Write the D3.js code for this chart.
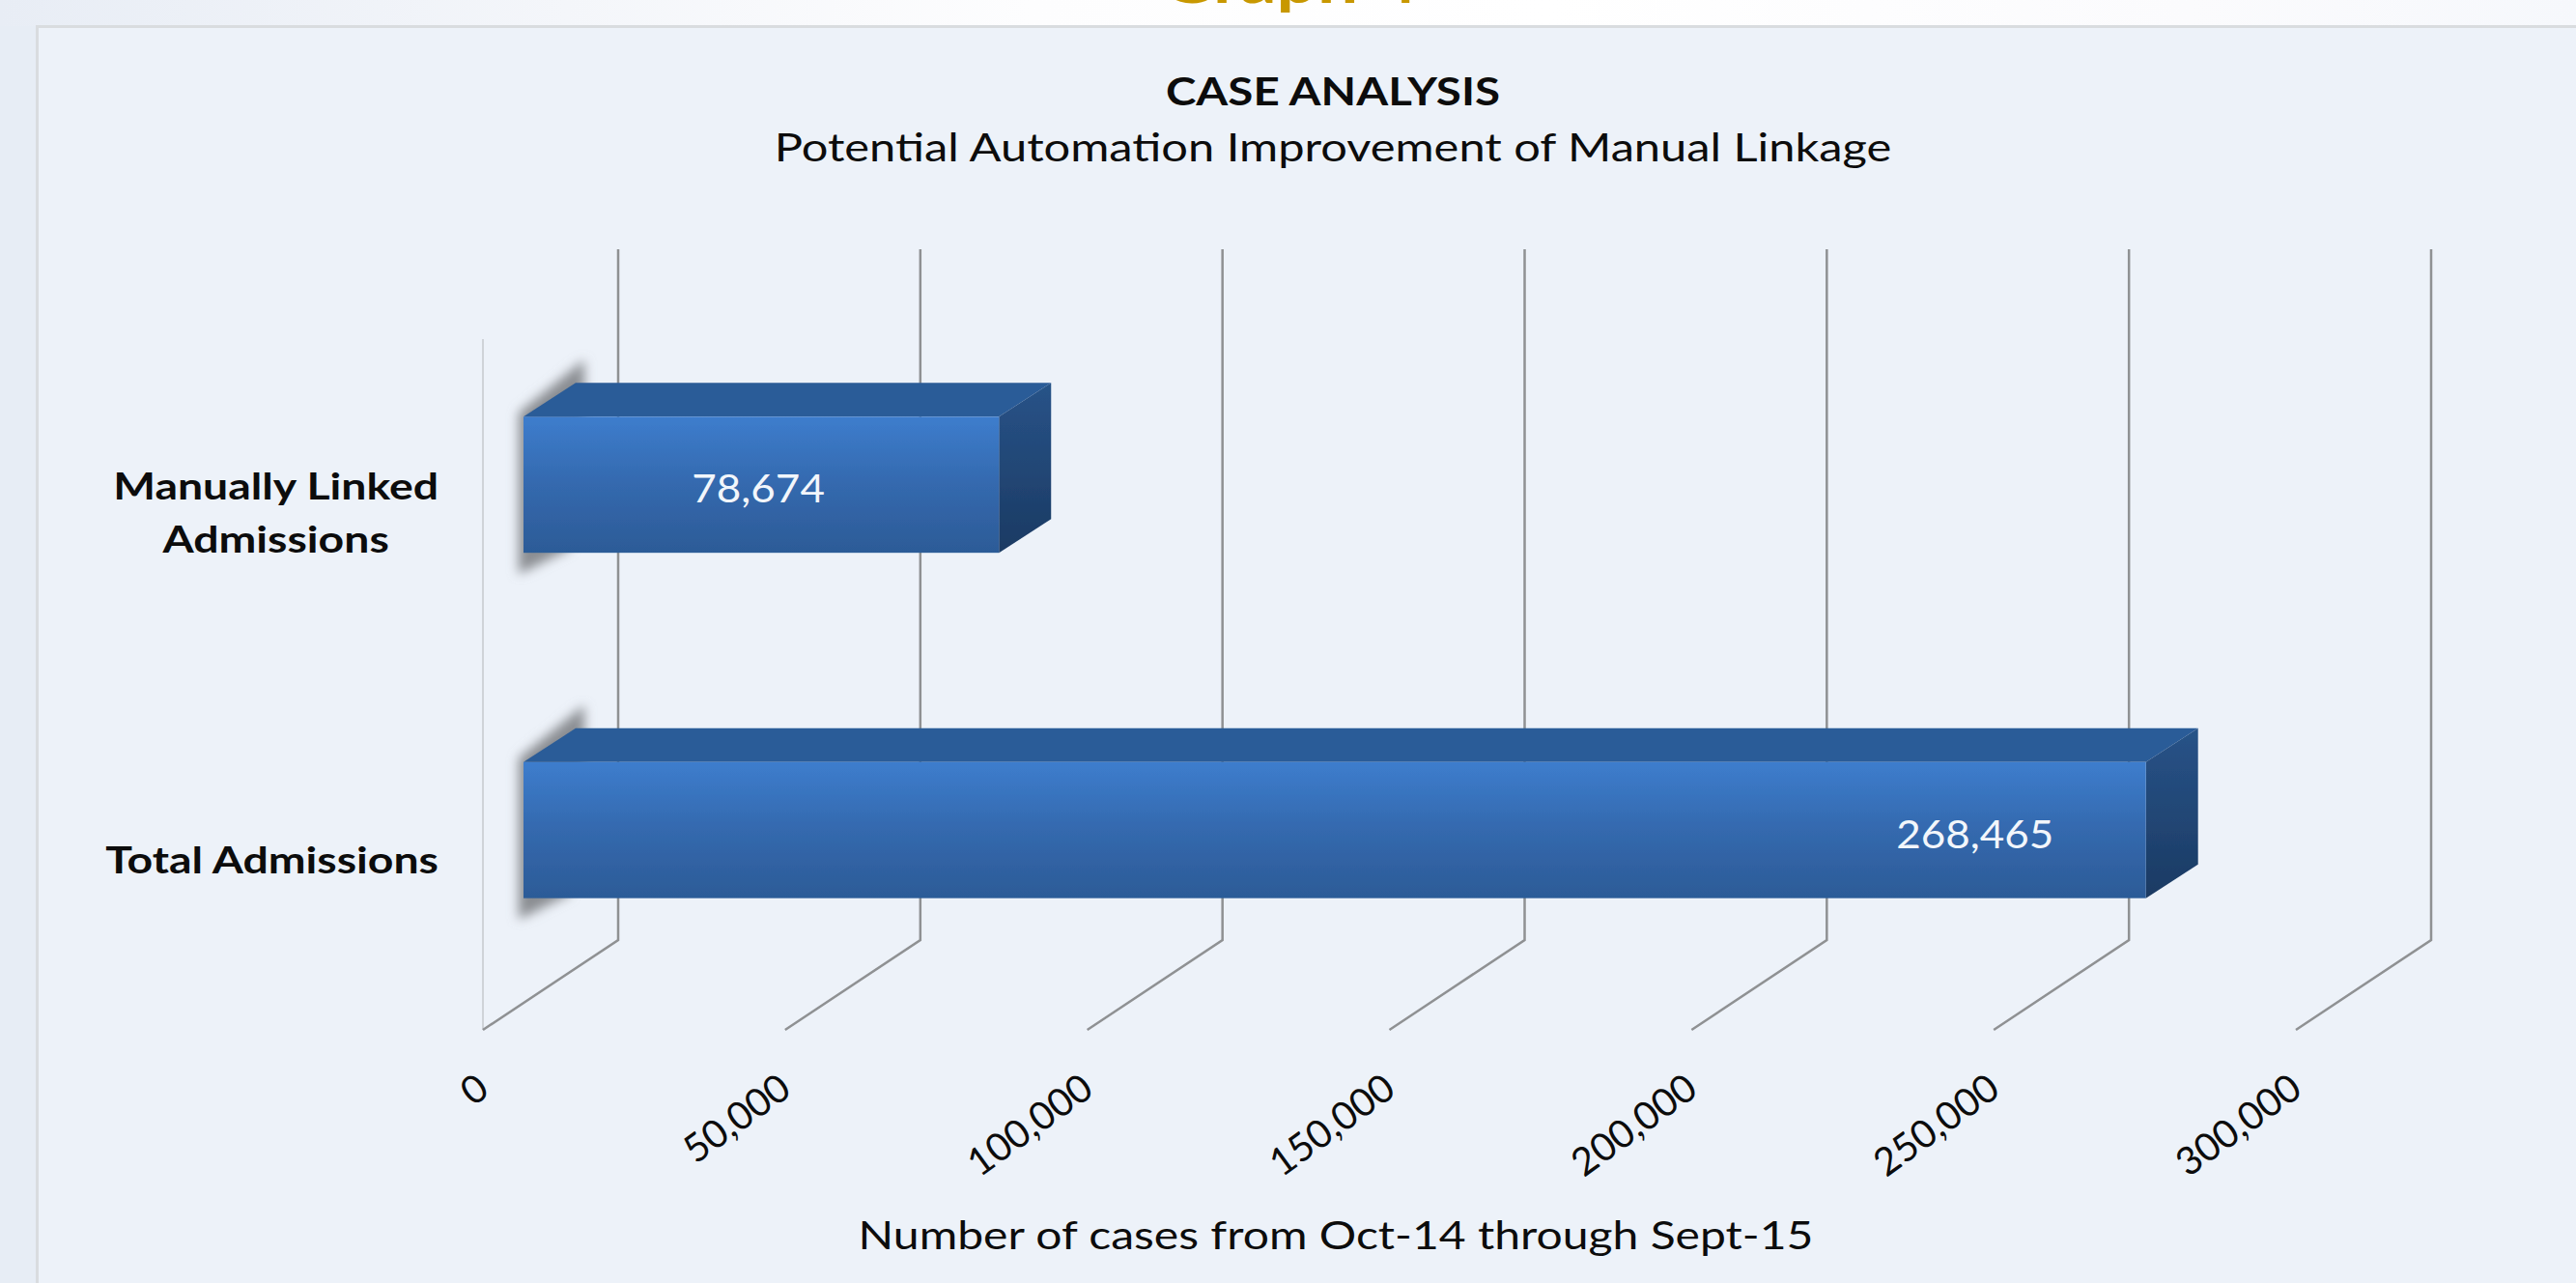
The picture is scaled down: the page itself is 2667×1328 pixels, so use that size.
<!DOCTYPE html>
<html>
<head>
<meta charset="utf-8">
<script src="https://cdn.jsdelivr.net/npm/d3@7"></script>
<style>
  html, body { margin: 0; padding: 0; background: #e7edf5; overflow: hidden; }
  svg { display: block; }
  text { font-family: Lato, "Open Sans", sans-serif; fill: #0c0c0c; }
</style>
</head>
<body>
<div id="chart"></div>
<script>
const categories = ['Manually Linked Admissions', 'Total Admissions'];
const values = [78674, 268465];
const xTicks = [0, 50000, 100000, 150000, 200000, 250000, 300000];
const chartTitle = 'CASE ANALYSIS';
const chartSubtitle = 'Potential Automation Improvement of Manual Linkage';
const xTitle = 'Number of cases from Oct-14 through Sept-15';
const pageHeading = 'Graph 4';

const width = 2667;
const height = 1328;

const svg = d3.select('#chart').append('svg')
    .attr('width', width)
    .attr('height', height);

const defs = svg.append('defs');

function addGradient(id, stops, x2 = 0, y2 = 1) {
  const g = defs.append('linearGradient').attr('id', id)
      .attr('x1', 0).attr('y1', 0).attr('x2', x2).attr('y2', y2);
  stops.forEach(([o, c]) => g.append('stop').attr('offset', o).attr('stop-color', c));
}
addGradient('strip', [[0, '#e8edf5'], [0.22, '#f4f6fa'], [0.4, '#fdfdfe'], [0.6, '#ffffff'], [0.85, '#fbfbfd'], [1, '#f6f8fc']], 1, 0);
addGradient('front', [[0, '#3d7dcd'], [0.5, '#3469ae'], [1, '#2c5b97']]);
addGradient('side', [[0, '#285388'], [1, '#1b3a63']]);
defs.append('filter').attr('id', 'blurShadow')
    .attr('x', '-30%').attr('y', '-30%').attr('width', '160%').attr('height', '160%')
  .append('feGaussianBlur').attr('stdDeviation', 6);
defs.append('filter').attr('id', 'soft')
    .attr('x', '-2%').attr('y', '-2%').attr('width', '104%').attr('height', '104%')
  .append('feGaussianBlur').attr('stdDeviation', 0.7);

// widen a text to k times its natural width, the reference glyphs are stretched
function stretch(sel, k) {
  sel.each(function () {
    const w = this.getComputedTextLength();
    d3.select(this).attr('textLength', w * k).attr('lengthAdjust', 'spacingAndGlyphs');
  });
}

// page behind the panel
svg.append('rect').attr('width', width).attr('height', 27).attr('fill', 'url(#strip)');
svg.append('text')
    .attr('x', 1335).attr('y', 3)
    .attr('text-anchor', 'middle')
    .attr('font-size', 64).attr('font-weight', 700)
    .style('fill', '#c89800')
    .text(pageHeading)
    .call(stretch, 1.17);

// panel
svg.append('rect').attr('x', 37).attr('y', 26).attr('width', width - 37).attr('height', height - 26).attr('fill', '#d9dcdf');
svg.append('rect').attr('x', 40).attr('y', 29).attr('width', width - 40).attr('height', height - 29).attr('fill', '#edf2f9');

// scales sit on the front plane of the 3D box
const x = d3.scaleLinear().domain([0, 300000]).range([500, 2377]);
const y = d3.scaleBand().domain(categories).range([351, 1066])
    .paddingInner(0.606).paddingOuter(0.303);

const floorY = 1066;
const wallDx = 140, wallDy = -93;   // front plane to back wall
const barDx = 42, barDy = -28;      // front plane to bar front
const depthDx = 54, depthDy = -35;  // bar depth

const barData = categories.map((c, i) => ({ category: c, value: values[i] }));

// left wall edge
svg.append('line')
    .attr('x1', x(0)).attr('x2', x(0))
    .attr('y1', y.range()[0]).attr('y2', floorY)
    .attr('stroke', '#cfd3d8').attr('stroke-width', 2);

// back wall gridlines plus floor diagonals
svg.append('g').selectAll('path')
    .data(xTicks)
    .join('path')
    .attr('d', (d) => `M${x(d)},${floorY}L${x(d) + wallDx},${floorY + wallDy}L${x(d) + wallDx},${y.range()[0] + wallDy}`)
    .attr('fill', 'none')
    .attr('stroke', '#8f9193')
    .attr('stroke-width', 2.5);

// x axis, labels follow the floor slope
const xAxis = svg.append('g')
    .attr('transform', `translate(0, ${floorY})`)
    .call(d3.axisBottom(x).tickValues(xTicks).tickSize(0).tickFormat(d3.format(',')));
xAxis.select('.domain').remove();
xAxis.selectAll('text')
    .attr('font-size', 40)
    .attr('text-anchor', 'end')
    .attr('dy', 0)
    .attr('y', 0)
    .attr('transform', 'translate(8, 66) rotate(-36)')
    .style('font-family', 'Lato');

// y axis, long names wrap on two lines
const yAxis = svg.append('g')
    .attr('transform', 'translate(454, 0)')
    .call(d3.axisLeft(y).tickSize(0));
yAxis.select('.domain').remove();
yAxis.selectAll('.tick').attr('transform', (d) => `translate(0, ${y(d) + y.bandwidth() / 2 + (d === categories[0] ? 0 : 4)})`);
yAxis.selectAll('text').each(function (d) {
  const t = d3.select(this);
  const lines = d === categories[0] ? ['Manually Linked', 'Admissions'] : [d];
  t.text(null)
      .attr('font-size', 38).attr('font-weight', 700)
      .attr('text-anchor', 'middle')
      .attr('dy', null).attr('y', 0)
      .style('font-family', 'Lato');
  lines.forEach((l, i) => t.append('tspan')
      .attr('dy', i === 0 ? (lines.length > 1 ? -13 : 13) : 55)
      .text(l));
  let w = 0;
  t.selectAll('tspan').each(function () { w = Math.max(w, this.getComputedTextLength()); });
  w *= 1.22;
  t.attr('x', -w / 2);
  t.selectAll('tspan').attr('x', -w / 2);
  stretch(t.selectAll('tspan'), 1.22);
});

function box(d) {
  const x0 = x(0) + barDx;
  const x1 = x(d.value) + barDx;
  const top = y(d.category) + barDy;
  const bottom = top + y.bandwidth();
  return { x0, x1, top, bottom };
}

// soft shadow on the left and behind the bar
svg.append('g').selectAll('path')
    .data(barData)
    .join('path')
    .attr('d', (d) => {
      const b = box(d);
      return `M${b.x0 - 5},${b.top - 4}L${b.x0 + depthDx + 9},${b.top + depthDy - 24}L${b.x0 + depthDx + 9},${b.top + 20}L${b.x0 + depthDx - 6},${b.bottom - 4}L${b.x0 - 5},${b.bottom + 22}Z`;
    })
    .attr('fill', '#8a8d92')
    .attr('filter', 'url(#blurShadow)');

// bars
const bars = svg.append('g').selectAll('g')
    .data(barData)
    .join('g')
    .attr('filter', 'url(#soft)');

bars.append('path')
    .attr('d', (d) => {
      const b = box(d);
      return `M${b.x0},${b.top}L${b.x0 + depthDx},${b.top + depthDy}L${b.x1 + depthDx},${b.top + depthDy}L${b.x1},${b.top}Z`;
    })
    .attr('fill', '#2b5c98');

bars.append('path')
    .attr('d', (d) => {
      const b = box(d);
      return `M${b.x1},${b.top}L${b.x1 + depthDx},${b.top + depthDy}L${b.x1 + depthDx},${b.bottom + depthDy}L${b.x1},${b.bottom}Z`;
    })
    .attr('fill', 'url(#side)');

bars.append('rect')
    .attr('x', (d) => box(d).x0)
    .attr('y', (d) => box(d).top)
    .attr('width', (d) => box(d).x1 - box(d).x0)
    .attr('height', y.bandwidth())
    .attr('fill', 'url(#front)');

// value labels
svg.append('g').selectAll('text')
    .data(barData)
    .join('text')
    .attr('x', (d, i) => i === 0 ? (box(d).x0 + box(d).x1) / 2 - 3 : box(d).x1 - 177)
    .attr('y', (d) => box(d).top + 89)
    .attr('text-anchor', 'middle')
    .attr('font-size', 40)
    .style('fill', '#f2f6fb')
    .text((d) => d3.format(',')(d.value))
    .call(stretch, 1.1);

// titles
svg.append('text').attr('x', 1380).attr('y', 109)
    .attr('text-anchor', 'middle').attr('font-size', 40).attr('font-weight', 700)
    .text(chartTitle)
    .call(stretch, 1.187);
svg.append('text').attr('x', 1380).attr('y', 167)
    .attr('text-anchor', 'middle').attr('font-size', 41)
    .text(chartSubtitle)
    .call(stretch, 1.19);
svg.append('text').attr('x', 1383).attr('y', 1293)
    .attr('text-anchor', 'middle').attr('font-size', 41)
    .text(xTitle)
    .call(stretch, 1.172);
</script>
</body>
</html>
